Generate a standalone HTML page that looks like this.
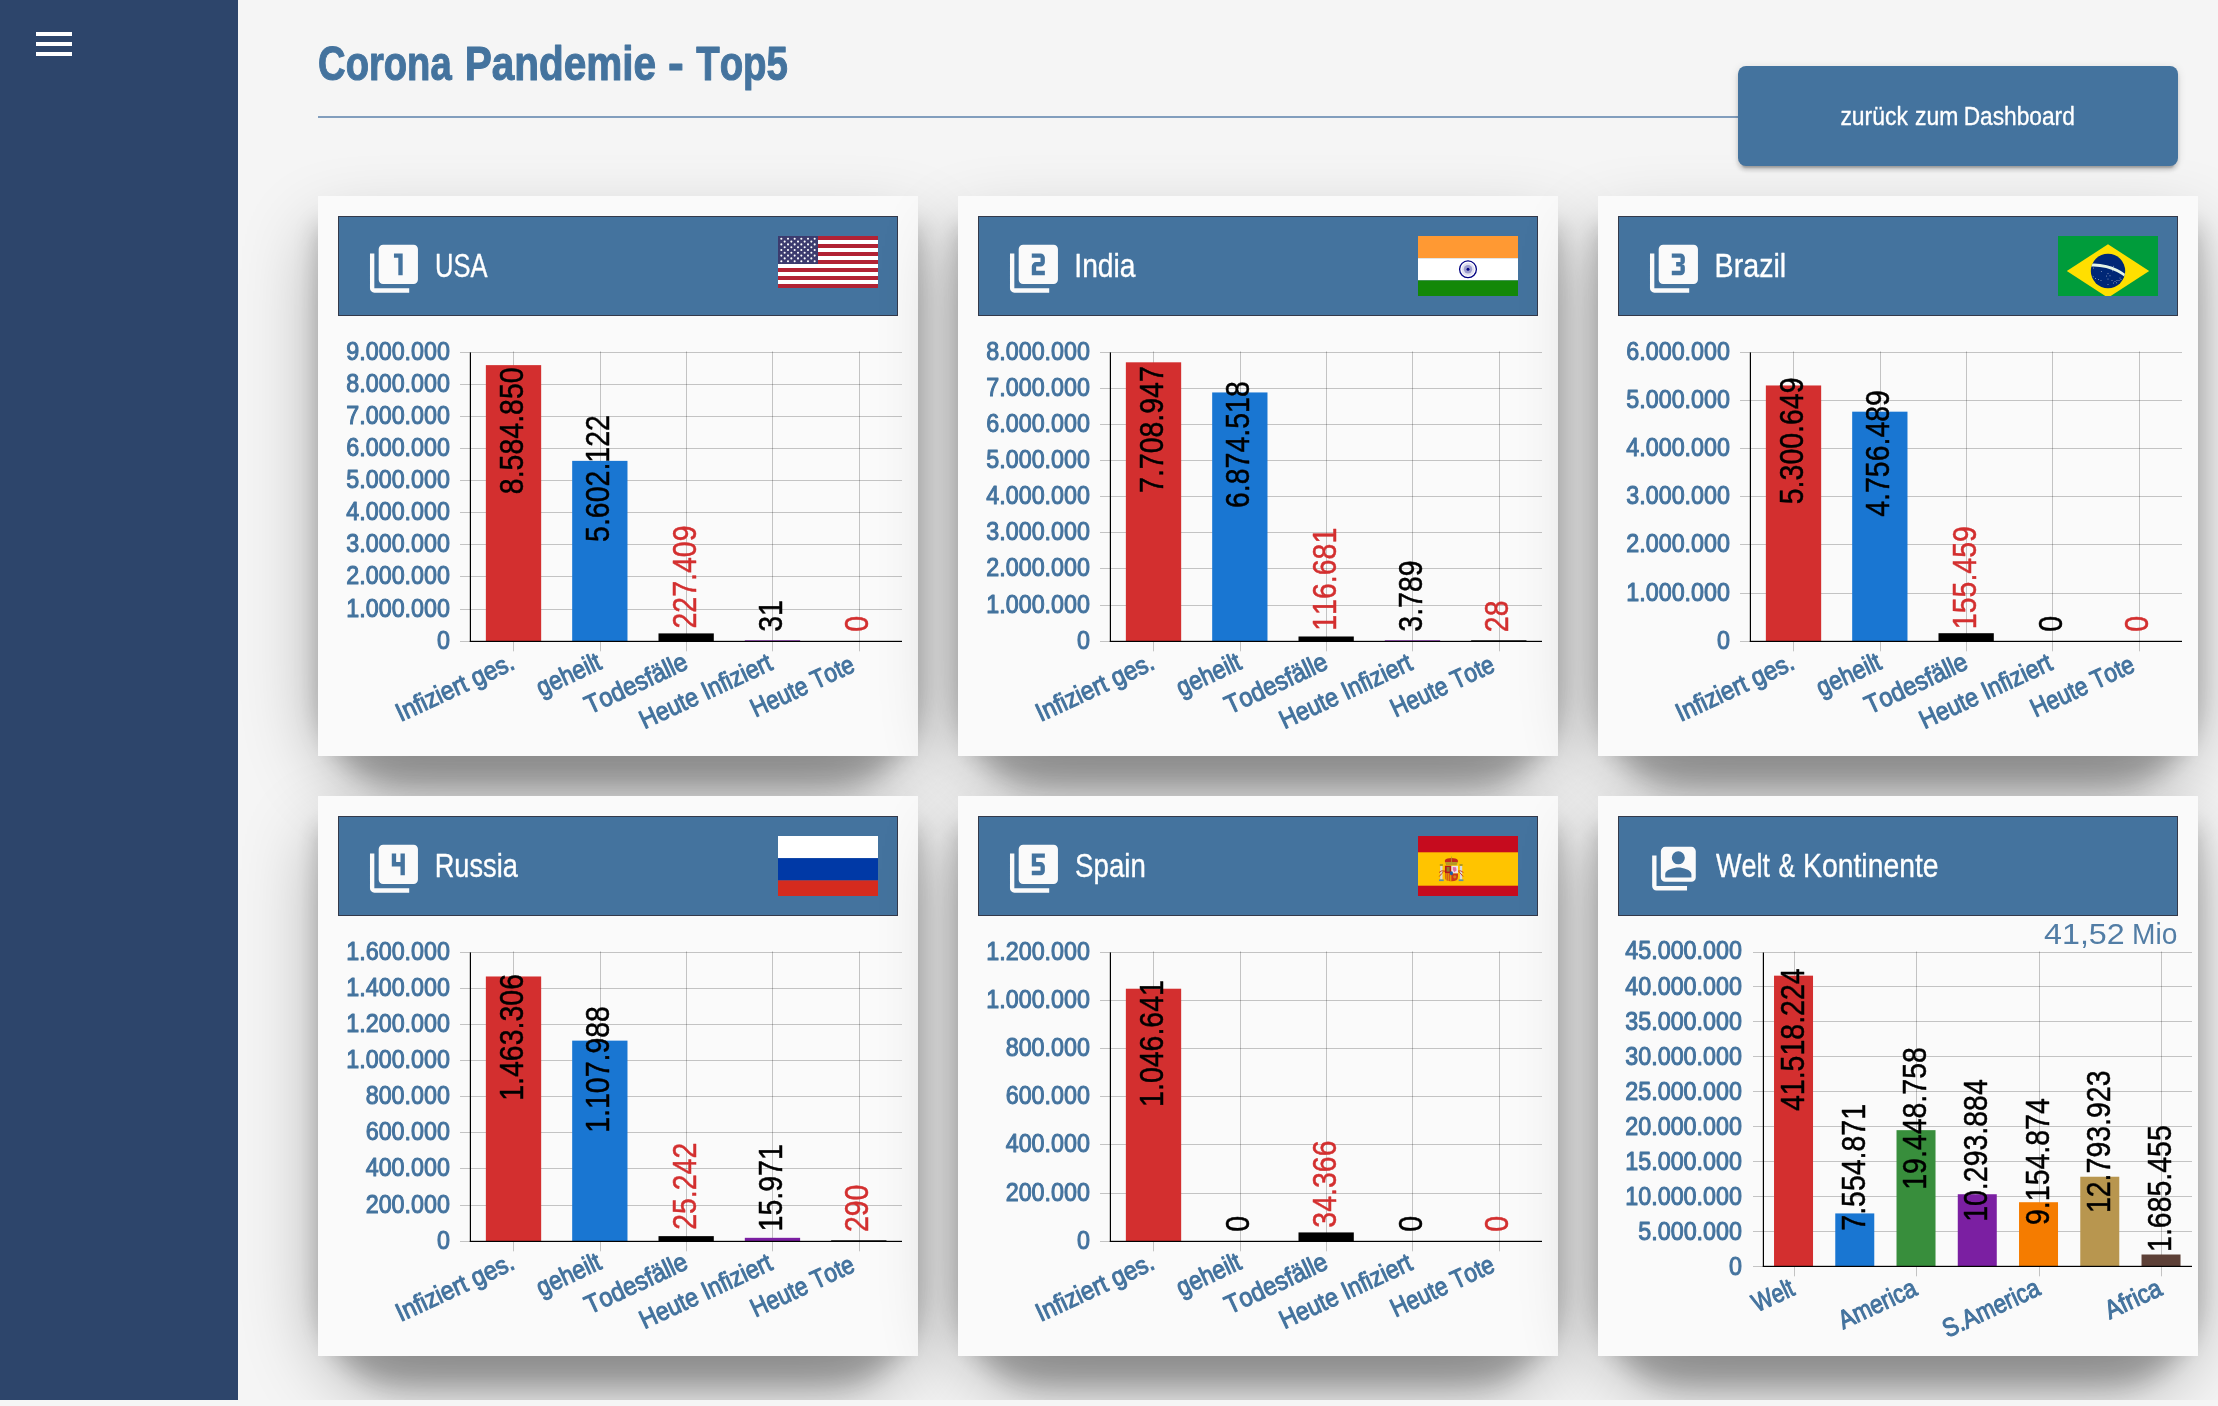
<!DOCTYPE html>
<html lang="de"><head><meta charset="utf-8"><title>Corona Pandemie - Top5</title>
<style>
html,body{margin:0;padding:0;background:#f5f5f5;}
body{width:2218px;height:1406px;overflow:hidden;font-family:"Liberation Sans", sans-serif;}
#wrap{position:absolute;left:0;top:0;width:2218px;height:1400px;overflow:hidden;background:#f5f5f5;}
#side{position:absolute;left:0;top:0;width:238px;height:1400px;background:#2d456b;}
.card{position:absolute;width:600px;height:560px;border-radius:0 0 86px 86px;box-shadow:0 38px 76px rgba(0,0,0,.30),0 30px 24px rgba(0,0,0,.22);}
.card svg{background:#fafafa;}
.card svg{display:block;overflow:hidden;will-change:transform;}
svg text{font-family:"Liberation Sans", sans-serif;font-kerning:none;}
#hline{position:absolute;left:318px;top:116px;width:1420px;height:2px;background:#829ebd;}
#btn{position:absolute;left:1738px;top:66px;width:440px;height:100px;border-radius:8px;background:#44739e;box-shadow:0 6px 2px -4px rgba(0,0,0,.2),0 4px 4px 0 rgba(0,0,0,.14),0 2px 10px 0 rgba(0,0,0,.12);}
#top{position:absolute;left:0;top:0;will-change:transform;}
</style></head><body>
<div id="wrap">
<div class="card" style="left:318px;top:196px"><svg width="600" height="560" viewBox="0 0 600 560"><rect x="20.5" y="20.5" width="559" height="99" fill="#44739e" stroke="#33394a" stroke-width="1"/><g transform="translate(49.8 46.5) scale(2.18)" fill="#fafafa" fill-rule="evenodd"><path d="M3,5H1V21A2,2 0 0,0 3,23H19V21H3ZM21,1H7A2,2 0 0,0 5,3V17A2,2 0 0,0 7,19H21A2,2 0 0,0 23,17V3A2,2 0 0,0 21,1ZM14,15H16V5H12V7H14Z"/></g><text transform="translate(117.07 81.10) scale(0.7863 1)" font-size="32.5" fill="#fff" stroke="#fff" stroke-width="0.35" stroke-linejoin="round">USA</text><svg x="460" y="40" width="100" height="60" viewBox="0 0 100 60"><g><rect width="100" height="52" fill="#fff"/><rect y="0" width="100" height="4" fill="#b22234"/><rect y="8" width="100" height="4" fill="#b22234"/><rect y="16" width="100" height="4" fill="#b22234"/><rect y="24" width="100" height="4" fill="#b22234"/><rect y="32" width="100" height="4" fill="#b22234"/><rect y="40" width="100" height="4" fill="#b22234"/><rect y="48" width="100" height="4" fill="#b22234"/><rect width="40" height="28" fill="#3c3b6e"/><circle cx="3.33" cy="2.80" r="1.05" fill="#fff"/><circle cx="10.00" cy="2.80" r="1.05" fill="#fff"/><circle cx="16.66" cy="2.80" r="1.05" fill="#fff"/><circle cx="23.33" cy="2.80" r="1.05" fill="#fff"/><circle cx="30.00" cy="2.80" r="1.05" fill="#fff"/><circle cx="36.66" cy="2.80" r="1.05" fill="#fff"/><circle cx="6.67" cy="5.60" r="1.05" fill="#fff"/><circle cx="13.34" cy="5.60" r="1.05" fill="#fff"/><circle cx="20.00" cy="5.60" r="1.05" fill="#fff"/><circle cx="26.67" cy="5.60" r="1.05" fill="#fff"/><circle cx="33.34" cy="5.60" r="1.05" fill="#fff"/><circle cx="3.33" cy="8.40" r="1.05" fill="#fff"/><circle cx="10.00" cy="8.40" r="1.05" fill="#fff"/><circle cx="16.66" cy="8.40" r="1.05" fill="#fff"/><circle cx="23.33" cy="8.40" r="1.05" fill="#fff"/><circle cx="30.00" cy="8.40" r="1.05" fill="#fff"/><circle cx="36.66" cy="8.40" r="1.05" fill="#fff"/><circle cx="6.67" cy="11.20" r="1.05" fill="#fff"/><circle cx="13.34" cy="11.20" r="1.05" fill="#fff"/><circle cx="20.00" cy="11.20" r="1.05" fill="#fff"/><circle cx="26.67" cy="11.20" r="1.05" fill="#fff"/><circle cx="33.34" cy="11.20" r="1.05" fill="#fff"/><circle cx="3.33" cy="14.00" r="1.05" fill="#fff"/><circle cx="10.00" cy="14.00" r="1.05" fill="#fff"/><circle cx="16.66" cy="14.00" r="1.05" fill="#fff"/><circle cx="23.33" cy="14.00" r="1.05" fill="#fff"/><circle cx="30.00" cy="14.00" r="1.05" fill="#fff"/><circle cx="36.66" cy="14.00" r="1.05" fill="#fff"/><circle cx="6.67" cy="16.80" r="1.05" fill="#fff"/><circle cx="13.34" cy="16.80" r="1.05" fill="#fff"/><circle cx="20.00" cy="16.80" r="1.05" fill="#fff"/><circle cx="26.67" cy="16.80" r="1.05" fill="#fff"/><circle cx="33.34" cy="16.80" r="1.05" fill="#fff"/><circle cx="3.33" cy="19.60" r="1.05" fill="#fff"/><circle cx="10.00" cy="19.60" r="1.05" fill="#fff"/><circle cx="16.66" cy="19.60" r="1.05" fill="#fff"/><circle cx="23.33" cy="19.60" r="1.05" fill="#fff"/><circle cx="30.00" cy="19.60" r="1.05" fill="#fff"/><circle cx="36.66" cy="19.60" r="1.05" fill="#fff"/><circle cx="6.67" cy="22.40" r="1.05" fill="#fff"/><circle cx="13.34" cy="22.40" r="1.05" fill="#fff"/><circle cx="20.00" cy="22.40" r="1.05" fill="#fff"/><circle cx="26.67" cy="22.40" r="1.05" fill="#fff"/><circle cx="33.34" cy="22.40" r="1.05" fill="#fff"/><circle cx="3.33" cy="25.20" r="1.05" fill="#fff"/><circle cx="10.00" cy="25.20" r="1.05" fill="#fff"/><circle cx="16.66" cy="25.20" r="1.05" fill="#fff"/><circle cx="23.33" cy="25.20" r="1.05" fill="#fff"/><circle cx="30.00" cy="25.20" r="1.05" fill="#fff"/><circle cx="36.66" cy="25.20" r="1.05" fill="#fff"/></g></svg><rect x="142" y="445" width="442" height="1" fill="rgba(0,0,0,.22)"/><text transform="translate(131.90 452.90) scale(0.9140 1)" font-size="25.5" fill="#44739e" text-anchor="end" stroke="#44739e" stroke-width="1.05" stroke-linejoin="round">0</text><rect x="142" y="413" width="442" height="1" fill="rgba(0,0,0,.22)"/><text transform="translate(131.90 420.90) scale(0.9140 1)" font-size="25.5" fill="#44739e" text-anchor="end" stroke="#44739e" stroke-width="1.05" stroke-linejoin="round">1.000.000</text><rect x="142" y="380" width="442" height="1" fill="rgba(0,0,0,.22)"/><text transform="translate(131.90 387.90) scale(0.9140 1)" font-size="25.5" fill="#44739e" text-anchor="end" stroke="#44739e" stroke-width="1.05" stroke-linejoin="round">2.000.000</text><rect x="142" y="348" width="442" height="1" fill="rgba(0,0,0,.22)"/><text transform="translate(131.90 355.90) scale(0.9140 1)" font-size="25.5" fill="#44739e" text-anchor="end" stroke="#44739e" stroke-width="1.05" stroke-linejoin="round">3.000.000</text><rect x="142" y="316" width="442" height="1" fill="rgba(0,0,0,.22)"/><text transform="translate(131.90 323.90) scale(0.9140 1)" font-size="25.5" fill="#44739e" text-anchor="end" stroke="#44739e" stroke-width="1.05" stroke-linejoin="round">4.000.000</text><rect x="142" y="284" width="442" height="1" fill="rgba(0,0,0,.22)"/><text transform="translate(131.90 291.90) scale(0.9140 1)" font-size="25.5" fill="#44739e" text-anchor="end" stroke="#44739e" stroke-width="1.05" stroke-linejoin="round">5.000.000</text><rect x="142" y="252" width="442" height="1" fill="rgba(0,0,0,.22)"/><text transform="translate(131.90 259.90) scale(0.9140 1)" font-size="25.5" fill="#44739e" text-anchor="end" stroke="#44739e" stroke-width="1.05" stroke-linejoin="round">6.000.000</text><rect x="142" y="220" width="442" height="1" fill="rgba(0,0,0,.22)"/><text transform="translate(131.90 227.90) scale(0.9140 1)" font-size="25.5" fill="#44739e" text-anchor="end" stroke="#44739e" stroke-width="1.05" stroke-linejoin="round">7.000.000</text><rect x="142" y="188" width="442" height="1" fill="rgba(0,0,0,.22)"/><text transform="translate(131.90 195.90) scale(0.9140 1)" font-size="25.5" fill="#44739e" text-anchor="end" stroke="#44739e" stroke-width="1.05" stroke-linejoin="round">8.000.000</text><rect x="142" y="156" width="442" height="1" fill="rgba(0,0,0,.22)"/><text transform="translate(131.90 163.90) scale(0.9140 1)" font-size="25.5" fill="#44739e" text-anchor="end" stroke="#44739e" stroke-width="1.05" stroke-linejoin="round">9.000.000</text><rect x="195" y="155.40" width="1" height="299.90" fill="rgba(0,0,0,.22)"/><rect x="282" y="155.40" width="1" height="299.90" fill="rgba(0,0,0,.22)"/><rect x="368" y="155.40" width="1" height="299.90" fill="rgba(0,0,0,.22)"/><rect x="454" y="155.40" width="1" height="299.90" fill="rgba(0,0,0,.22)"/><rect x="541" y="155.40" width="1" height="299.90" fill="rgba(0,0,0,.22)"/><rect x="167.86" y="169.13" width="55.3" height="276.17" fill="#d32f2f"/><rect x="254.18" y="264.87" width="55.3" height="180.43" fill="#1976d2"/><rect x="340.50" y="437.40" width="55.3" height="7.90" fill="#000000"/><rect x="426.82" y="444.30" width="55.3" height="1.00" fill="#7b1fa2"/><rect x="151.80" y="156.40" width="1.2" height="289.50" fill="#000"/><rect x="151.80" y="444.80" width="432.20" height="1.2" fill="#000"/><text transform="translate(205.06 298.15) rotate(-90) scale(0.8510 1)" font-size="33.5" fill="#000" stroke="#000" stroke-width="0.5" stroke-linejoin="round">8.584.850</text><text transform="translate(291.38 345.93) rotate(-90) scale(0.8510 1)" font-size="33.5" fill="#000" stroke="#000" stroke-width="0.5" stroke-linejoin="round">5.602.122</text><text transform="translate(377.70 432.48) rotate(-90) scale(0.8510 1)" font-size="33.5" fill="#d32f2f" stroke="#d32f2f" stroke-width="0.5" stroke-linejoin="round">227.409</text><text transform="translate(464.02 435.79) rotate(-90) scale(0.8510 1)" font-size="33.5" fill="#000" stroke="#000" stroke-width="0.5" stroke-linejoin="round">31</text><text transform="translate(550.34 435.81) rotate(-90) scale(0.8510 1)" font-size="33.5" fill="#d32f2f" stroke="#d32f2f" stroke-width="0.5" stroke-linejoin="round">0</text><text transform="translate(198.24 472.23) rotate(-25) scale(0.9090 1)" font-size="26" fill="#44739e" text-anchor="end" stroke="#44739e" stroke-width="1.05" stroke-linejoin="round">Infiziert ges.</text><text transform="translate(285.20 471.93) rotate(-25) scale(0.8920 1)" font-size="26" fill="#44739e" text-anchor="end" stroke="#44739e" stroke-width="1.05" stroke-linejoin="round">geheilt</text><text transform="translate(371.52 471.93) rotate(-25) scale(0.9174 1)" font-size="26" fill="#44739e" text-anchor="end" stroke="#44739e" stroke-width="1.05" stroke-linejoin="round">Todesfälle</text><text transform="translate(456.21 472.69) rotate(-25) scale(0.8920 1)" font-size="26" fill="#44739e" text-anchor="end" stroke="#44739e" stroke-width="1.05" stroke-linejoin="round">Heute Infiziert</text><text transform="translate(538.45 474.59) rotate(-25) scale(0.8657 1)" font-size="26" fill="#44739e" text-anchor="end" stroke="#44739e" stroke-width="1.05" stroke-linejoin="round">Heute Tote</text></svg></div><div class="card" style="left:958px;top:196px"><svg width="600" height="560" viewBox="0 0 600 560"><rect x="20.5" y="20.5" width="559" height="99" fill="#44739e" stroke="#33394a" stroke-width="1"/><g transform="translate(49.8 46.5) scale(2.18)" fill="#fafafa" fill-rule="evenodd"><path d="M3,5H1V21A2,2 0 0,0 3,23H19V21H3ZM21,1H7A2,2 0 0,0 5,3V17A2,2 0 0,0 7,19H21A2,2 0 0,0 23,17V3A2,2 0 0,0 21,1ZM17,13H13V11H15A2,2 0 0,0 17,9V7C17,5.89 16.1,5 15,5H11V7H15V9H13A2,2 0 0,0 11,11V15H17Z"/></g><text transform="translate(116.33 81.10) scale(0.8688 1)" font-size="32.5" fill="#fff" stroke="#fff" stroke-width="0.35" stroke-linejoin="round">India</text><svg x="460" y="40" width="100" height="60" viewBox="0 0 100 60"><g><rect width="100" height="22.2" fill="#ff9933"/><rect y="22.2" width="100" height="22.2" fill="#fff"/><rect y="44.4" width="100" height="15.6" fill="#138808"/><circle cx="50" cy="33.3" r="8.4" fill="#fff" stroke="#000080" stroke-width="1.3"/><circle cx="50" cy="33.3" r="6.5" fill="#000080" opacity="0.12"/><circle cx="50" cy="33.3" r="4.2" fill="#000080" opacity="0.3"/><circle cx="50" cy="33.3" r="1.5" fill="#000080"/></g></svg><rect x="142" y="445" width="442" height="1" fill="rgba(0,0,0,.22)"/><text transform="translate(131.90 452.90) scale(0.9140 1)" font-size="25.5" fill="#44739e" text-anchor="end" stroke="#44739e" stroke-width="1.05" stroke-linejoin="round">0</text><rect x="142" y="409" width="442" height="1" fill="rgba(0,0,0,.22)"/><text transform="translate(131.90 416.90) scale(0.9140 1)" font-size="25.5" fill="#44739e" text-anchor="end" stroke="#44739e" stroke-width="1.05" stroke-linejoin="round">1.000.000</text><rect x="142" y="372" width="442" height="1" fill="rgba(0,0,0,.22)"/><text transform="translate(131.90 379.90) scale(0.9140 1)" font-size="25.5" fill="#44739e" text-anchor="end" stroke="#44739e" stroke-width="1.05" stroke-linejoin="round">2.000.000</text><rect x="142" y="336" width="442" height="1" fill="rgba(0,0,0,.22)"/><text transform="translate(131.90 343.90) scale(0.9140 1)" font-size="25.5" fill="#44739e" text-anchor="end" stroke="#44739e" stroke-width="1.05" stroke-linejoin="round">3.000.000</text><rect x="142" y="300" width="442" height="1" fill="rgba(0,0,0,.22)"/><text transform="translate(131.90 307.90) scale(0.9140 1)" font-size="25.5" fill="#44739e" text-anchor="end" stroke="#44739e" stroke-width="1.05" stroke-linejoin="round">4.000.000</text><rect x="142" y="264" width="442" height="1" fill="rgba(0,0,0,.22)"/><text transform="translate(131.90 271.90) scale(0.9140 1)" font-size="25.5" fill="#44739e" text-anchor="end" stroke="#44739e" stroke-width="1.05" stroke-linejoin="round">5.000.000</text><rect x="142" y="228" width="442" height="1" fill="rgba(0,0,0,.22)"/><text transform="translate(131.90 235.90) scale(0.9140 1)" font-size="25.5" fill="#44739e" text-anchor="end" stroke="#44739e" stroke-width="1.05" stroke-linejoin="round">6.000.000</text><rect x="142" y="192" width="442" height="1" fill="rgba(0,0,0,.22)"/><text transform="translate(131.90 199.90) scale(0.9140 1)" font-size="25.5" fill="#44739e" text-anchor="end" stroke="#44739e" stroke-width="1.05" stroke-linejoin="round">7.000.000</text><rect x="142" y="156" width="442" height="1" fill="rgba(0,0,0,.22)"/><text transform="translate(131.90 163.90) scale(0.9140 1)" font-size="25.5" fill="#44739e" text-anchor="end" stroke="#44739e" stroke-width="1.05" stroke-linejoin="round">8.000.000</text><rect x="195" y="155.40" width="1" height="299.90" fill="rgba(0,0,0,.22)"/><rect x="282" y="155.40" width="1" height="299.90" fill="rgba(0,0,0,.22)"/><rect x="368" y="155.40" width="1" height="299.90" fill="rgba(0,0,0,.22)"/><rect x="454" y="155.40" width="1" height="299.90" fill="rgba(0,0,0,.22)"/><rect x="541" y="155.40" width="1" height="299.90" fill="rgba(0,0,0,.22)"/><rect x="167.86" y="166.31" width="55.3" height="278.99" fill="#d32f2f"/><rect x="254.18" y="196.44" width="55.3" height="248.86" fill="#1976d2"/><rect x="340.50" y="440.49" width="55.3" height="4.81" fill="#000000"/><rect x="426.82" y="444.30" width="55.3" height="1.00" fill="#7b1fa2"/><rect x="513.14" y="444.30" width="55.3" height="1.00" fill="#000000"/><rect x="151.80" y="156.40" width="1.2" height="289.50" fill="#000"/><rect x="151.80" y="444.80" width="432.20" height="1.2" fill="#000"/><text transform="translate(205.06 296.97) rotate(-90) scale(0.8510 1)" font-size="33.5" fill="#000" stroke="#000" stroke-width="0.5" stroke-linejoin="round">7.708.947</text><text transform="translate(291.38 312.02) rotate(-90) scale(0.8510 1)" font-size="33.5" fill="#000" stroke="#000" stroke-width="0.5" stroke-linejoin="round">6.874.518</text><text transform="translate(377.70 434.76) rotate(-90) scale(0.8510 1)" font-size="33.5" fill="#d32f2f" stroke="#d32f2f" stroke-width="0.5" stroke-linejoin="round">116.681</text><text transform="translate(464.02 435.72) rotate(-90) scale(0.8510 1)" font-size="33.5" fill="#000" stroke="#000" stroke-width="0.5" stroke-linejoin="round">3.789</text><text transform="translate(550.34 436.13) rotate(-90) scale(0.8510 1)" font-size="33.5" fill="#d32f2f" stroke="#d32f2f" stroke-width="0.5" stroke-linejoin="round">28</text><text transform="translate(198.24 472.23) rotate(-25) scale(0.9090 1)" font-size="26" fill="#44739e" text-anchor="end" stroke="#44739e" stroke-width="1.05" stroke-linejoin="round">Infiziert ges.</text><text transform="translate(285.20 471.93) rotate(-25) scale(0.8920 1)" font-size="26" fill="#44739e" text-anchor="end" stroke="#44739e" stroke-width="1.05" stroke-linejoin="round">geheilt</text><text transform="translate(371.52 471.93) rotate(-25) scale(0.9174 1)" font-size="26" fill="#44739e" text-anchor="end" stroke="#44739e" stroke-width="1.05" stroke-linejoin="round">Todesfälle</text><text transform="translate(456.21 472.69) rotate(-25) scale(0.8920 1)" font-size="26" fill="#44739e" text-anchor="end" stroke="#44739e" stroke-width="1.05" stroke-linejoin="round">Heute Infiziert</text><text transform="translate(538.45 474.59) rotate(-25) scale(0.8657 1)" font-size="26" fill="#44739e" text-anchor="end" stroke="#44739e" stroke-width="1.05" stroke-linejoin="round">Heute Tote</text></svg></div><div class="card" style="left:1598px;top:196px"><svg width="600" height="560" viewBox="0 0 600 560"><rect x="20.5" y="20.5" width="559" height="99" fill="#44739e" stroke="#33394a" stroke-width="1"/><g transform="translate(49.8 46.5) scale(2.18)" fill="#fafafa" fill-rule="evenodd"><path d="M3,5H1V21A2,2 0 0,0 3,23H19V21H3ZM21,1H7A2,2 0 0,0 5,3V17A2,2 0 0,0 7,19H21A2,2 0 0,0 23,17V3A2,2 0 0,0 21,1ZM17,13V11.5A1.5,1.5 0 0,0 15.5,10A1.5,1.5 0 0,0 17,8.5V7C17,5.89 16.1,5 15,5H11V7H15V9H13V11H15V13H11V15H15A2,2 0 0,0 17,13Z"/></g><text transform="translate(116.59 81.10) scale(0.8822 1)" font-size="32.5" fill="#fff" stroke="#fff" stroke-width="0.35" stroke-linejoin="round">Brazil</text><svg x="460" y="40" width="100" height="60" viewBox="0 0 100 60"><g><rect width="100" height="60" fill="#009c3b"/><path d="M8.8,35 L50,8.3 L91.2,35 L50,61.7Z" fill="#ffdf00"/><clipPath id="brc"><circle cx="50" cy="35" r="17.2"/></clipPath><circle cx="50" cy="35" r="17.2" fill="#002776"/><path d="M31,29.3 C40,28.2 56,30.2 69,41" fill="none" stroke="#e4f3e6" stroke-width="2.8" clip-path="url(#brc)"/><circle cx="35.5" cy="32" r="0.55" fill="#fff" opacity="0.55"/><circle cx="43.4" cy="35.5" r="0.55" fill="#fff" opacity="0.55"/><circle cx="37.5" cy="42.5" r="0.55" fill="#fff" opacity="0.55"/><circle cx="40.5" cy="43.5" r="0.55" fill="#fff" opacity="0.55"/><circle cx="35.2" cy="40.8" r="0.55" fill="#fff" opacity="0.55"/><circle cx="43" cy="44.5" r="0.55" fill="#fff" opacity="0.55"/><circle cx="50" cy="37.6" r="0.55" fill="#fff" opacity="0.55"/><circle cx="52" cy="39.8" r="0.55" fill="#fff" opacity="0.55"/><circle cx="48.5" cy="40" r="0.55" fill="#fff" opacity="0.55"/><circle cx="50" cy="43" r="0.55" fill="#fff" opacity="0.55"/><circle cx="54" cy="44.5" r="0.55" fill="#fff" opacity="0.55"/><circle cx="57" cy="45.5" r="0.55" fill="#fff" opacity="0.55"/><circle cx="58.5" cy="46.8" r="0.55" fill="#fff" opacity="0.55"/><circle cx="55.5" cy="47" r="0.55" fill="#fff" opacity="0.55"/><circle cx="59" cy="44.5" r="0.55" fill="#fff" opacity="0.55"/><circle cx="62" cy="42" r="0.55" fill="#fff" opacity="0.55"/><circle cx="63" cy="43.5" r="0.55" fill="#fff" opacity="0.55"/><circle cx="61" cy="44.5" r="0.55" fill="#fff" opacity="0.55"/><circle cx="50" cy="48.5" r="0.55" fill="#fff" opacity="0.55"/><circle cx="54.5" cy="34.8" r="0.55" fill="#fff" opacity="0.55"/><circle cx="55.5" cy="30.2" r="0.55" fill="#fff" opacity="0.55"/></g></svg><rect x="142" y="445" width="442" height="1" fill="rgba(0,0,0,.22)"/><text transform="translate(131.90 452.90) scale(0.9140 1)" font-size="25.5" fill="#44739e" text-anchor="end" stroke="#44739e" stroke-width="1.05" stroke-linejoin="round">0</text><rect x="142" y="397" width="442" height="1" fill="rgba(0,0,0,.22)"/><text transform="translate(131.90 404.90) scale(0.9140 1)" font-size="25.5" fill="#44739e" text-anchor="end" stroke="#44739e" stroke-width="1.05" stroke-linejoin="round">1.000.000</text><rect x="142" y="348" width="442" height="1" fill="rgba(0,0,0,.22)"/><text transform="translate(131.90 355.90) scale(0.9140 1)" font-size="25.5" fill="#44739e" text-anchor="end" stroke="#44739e" stroke-width="1.05" stroke-linejoin="round">2.000.000</text><rect x="142" y="300" width="442" height="1" fill="rgba(0,0,0,.22)"/><text transform="translate(131.90 307.90) scale(0.9140 1)" font-size="25.5" fill="#44739e" text-anchor="end" stroke="#44739e" stroke-width="1.05" stroke-linejoin="round">3.000.000</text><rect x="142" y="252" width="442" height="1" fill="rgba(0,0,0,.22)"/><text transform="translate(131.90 259.90) scale(0.9140 1)" font-size="25.5" fill="#44739e" text-anchor="end" stroke="#44739e" stroke-width="1.05" stroke-linejoin="round">4.000.000</text><rect x="142" y="204" width="442" height="1" fill="rgba(0,0,0,.22)"/><text transform="translate(131.90 211.90) scale(0.9140 1)" font-size="25.5" fill="#44739e" text-anchor="end" stroke="#44739e" stroke-width="1.05" stroke-linejoin="round">5.000.000</text><rect x="142" y="156" width="442" height="1" fill="rgba(0,0,0,.22)"/><text transform="translate(131.90 163.90) scale(0.9140 1)" font-size="25.5" fill="#44739e" text-anchor="end" stroke="#44739e" stroke-width="1.05" stroke-linejoin="round">6.000.000</text><rect x="195" y="155.40" width="1" height="299.90" fill="rgba(0,0,0,.22)"/><rect x="282" y="155.40" width="1" height="299.90" fill="rgba(0,0,0,.22)"/><rect x="368" y="155.40" width="1" height="299.90" fill="rgba(0,0,0,.22)"/><rect x="454" y="155.40" width="1" height="299.90" fill="rgba(0,0,0,.22)"/><rect x="541" y="155.40" width="1" height="299.90" fill="rgba(0,0,0,.22)"/><rect x="167.86" y="189.47" width="55.3" height="255.83" fill="#d32f2f"/><rect x="254.18" y="215.68" width="55.3" height="229.62" fill="#1976d2"/><rect x="340.50" y="437.21" width="55.3" height="8.09" fill="#000000"/><rect x="151.80" y="156.40" width="1.2" height="289.50" fill="#000"/><rect x="151.80" y="444.80" width="432.20" height="1.2" fill="#000"/><text transform="translate(205.06 308.23) rotate(-90) scale(0.8510 1)" font-size="33.5" fill="#000" stroke="#000" stroke-width="0.5" stroke-linejoin="round">5.300.649</text><text transform="translate(291.38 320.84) rotate(-90) scale(0.8510 1)" font-size="33.5" fill="#000" stroke="#000" stroke-width="0.5" stroke-linejoin="round">4.756.489</text><text transform="translate(377.70 433.13) rotate(-90) scale(0.8510 1)" font-size="33.5" fill="#d32f2f" stroke="#d32f2f" stroke-width="0.5" stroke-linejoin="round">155.459</text><text transform="translate(464.02 435.81) rotate(-90) scale(0.8510 1)" font-size="33.5" fill="#000" stroke="#000" stroke-width="0.5" stroke-linejoin="round">0</text><text transform="translate(550.34 435.81) rotate(-90) scale(0.8510 1)" font-size="33.5" fill="#d32f2f" stroke="#d32f2f" stroke-width="0.5" stroke-linejoin="round">0</text><text transform="translate(198.24 472.23) rotate(-25) scale(0.9090 1)" font-size="26" fill="#44739e" text-anchor="end" stroke="#44739e" stroke-width="1.05" stroke-linejoin="round">Infiziert ges.</text><text transform="translate(285.20 471.93) rotate(-25) scale(0.8920 1)" font-size="26" fill="#44739e" text-anchor="end" stroke="#44739e" stroke-width="1.05" stroke-linejoin="round">geheilt</text><text transform="translate(371.52 471.93) rotate(-25) scale(0.9174 1)" font-size="26" fill="#44739e" text-anchor="end" stroke="#44739e" stroke-width="1.05" stroke-linejoin="round">Todesfälle</text><text transform="translate(456.21 472.69) rotate(-25) scale(0.8920 1)" font-size="26" fill="#44739e" text-anchor="end" stroke="#44739e" stroke-width="1.05" stroke-linejoin="round">Heute Infiziert</text><text transform="translate(538.45 474.59) rotate(-25) scale(0.8657 1)" font-size="26" fill="#44739e" text-anchor="end" stroke="#44739e" stroke-width="1.05" stroke-linejoin="round">Heute Tote</text></svg></div><div class="card" style="left:318px;top:796px"><svg width="600" height="560" viewBox="0 0 600 560"><rect x="20.5" y="20.5" width="559" height="99" fill="#44739e" stroke="#33394a" stroke-width="1"/><g transform="translate(49.8 46.5) scale(2.18)" fill="#fafafa" fill-rule="evenodd"><path d="M3,5H1V21A2,2 0 0,0 3,23H19V21H3ZM21,1H7A2,2 0 0,0 5,3V17A2,2 0 0,0 7,19H21A2,2 0 0,0 23,17V3A2,2 0 0,0 21,1ZM17,15H15V11H11V5H13V9H15V5H17Z"/></g><text transform="translate(116.71 81.10) scale(0.8370 1)" font-size="32.5" fill="#fff" stroke="#fff" stroke-width="0.35" stroke-linejoin="round">Russia</text><svg x="460" y="40" width="100" height="60" viewBox="0 0 100 60"><g><rect width="100" height="22.2" fill="#fff"/><rect y="22.2" width="100" height="22.2" fill="#0039a6"/><rect y="44.4" width="100" height="15.6" fill="#d52b1e"/></g></svg><rect x="142" y="445" width="442" height="1" fill="rgba(0,0,0,.22)"/><text transform="translate(131.90 452.90) scale(0.9140 1)" font-size="25.5" fill="#44739e" text-anchor="end" stroke="#44739e" stroke-width="1.05" stroke-linejoin="round">0</text><rect x="142" y="409" width="442" height="1" fill="rgba(0,0,0,.22)"/><text transform="translate(131.90 416.90) scale(0.9140 1)" font-size="25.5" fill="#44739e" text-anchor="end" stroke="#44739e" stroke-width="1.05" stroke-linejoin="round">200.000</text><rect x="142" y="372" width="442" height="1" fill="rgba(0,0,0,.22)"/><text transform="translate(131.90 379.90) scale(0.9140 1)" font-size="25.5" fill="#44739e" text-anchor="end" stroke="#44739e" stroke-width="1.05" stroke-linejoin="round">400.000</text><rect x="142" y="336" width="442" height="1" fill="rgba(0,0,0,.22)"/><text transform="translate(131.90 343.90) scale(0.9140 1)" font-size="25.5" fill="#44739e" text-anchor="end" stroke="#44739e" stroke-width="1.05" stroke-linejoin="round">600.000</text><rect x="142" y="300" width="442" height="1" fill="rgba(0,0,0,.22)"/><text transform="translate(131.90 307.90) scale(0.9140 1)" font-size="25.5" fill="#44739e" text-anchor="end" stroke="#44739e" stroke-width="1.05" stroke-linejoin="round">800.000</text><rect x="142" y="264" width="442" height="1" fill="rgba(0,0,0,.22)"/><text transform="translate(131.90 271.90) scale(0.9140 1)" font-size="25.5" fill="#44739e" text-anchor="end" stroke="#44739e" stroke-width="1.05" stroke-linejoin="round">1.000.000</text><rect x="142" y="228" width="442" height="1" fill="rgba(0,0,0,.22)"/><text transform="translate(131.90 235.90) scale(0.9140 1)" font-size="25.5" fill="#44739e" text-anchor="end" stroke="#44739e" stroke-width="1.05" stroke-linejoin="round">1.200.000</text><rect x="142" y="192" width="442" height="1" fill="rgba(0,0,0,.22)"/><text transform="translate(131.90 199.90) scale(0.9140 1)" font-size="25.5" fill="#44739e" text-anchor="end" stroke="#44739e" stroke-width="1.05" stroke-linejoin="round">1.400.000</text><rect x="142" y="156" width="442" height="1" fill="rgba(0,0,0,.22)"/><text transform="translate(131.90 163.90) scale(0.9140 1)" font-size="25.5" fill="#44739e" text-anchor="end" stroke="#44739e" stroke-width="1.05" stroke-linejoin="round">1.600.000</text><rect x="195" y="155.40" width="1" height="299.90" fill="rgba(0,0,0,.22)"/><rect x="282" y="155.40" width="1" height="299.90" fill="rgba(0,0,0,.22)"/><rect x="368" y="155.40" width="1" height="299.90" fill="rgba(0,0,0,.22)"/><rect x="454" y="155.40" width="1" height="299.90" fill="rgba(0,0,0,.22)"/><rect x="541" y="155.40" width="1" height="299.90" fill="rgba(0,0,0,.22)"/><rect x="167.86" y="180.48" width="55.3" height="264.82" fill="#d32f2f"/><rect x="254.18" y="244.64" width="55.3" height="200.66" fill="#1976d2"/><rect x="340.50" y="440.14" width="55.3" height="5.16" fill="#000000"/><rect x="426.82" y="441.82" width="55.3" height="3.48" fill="#7b1fa2"/><rect x="513.14" y="444.30" width="55.3" height="1.00" fill="#000000"/><rect x="151.80" y="156.40" width="1.2" height="289.50" fill="#000"/><rect x="151.80" y="444.80" width="432.20" height="1.2" fill="#000"/><text transform="translate(205.06 304.76) rotate(-90) scale(0.8510 1)" font-size="33.5" fill="#000" stroke="#000" stroke-width="0.5" stroke-linejoin="round">1.463.306</text><text transform="translate(291.38 336.84) rotate(-90) scale(0.8510 1)" font-size="33.5" fill="#000" stroke="#000" stroke-width="0.5" stroke-linejoin="round">1.107.988</text><text transform="translate(377.70 433.85) rotate(-90) scale(0.8510 1)" font-size="33.5" fill="#d32f2f" stroke="#d32f2f" stroke-width="0.5" stroke-linejoin="round">25.242</text><text transform="translate(464.02 435.43) rotate(-90) scale(0.8510 1)" font-size="33.5" fill="#000" stroke="#000" stroke-width="0.5" stroke-linejoin="round">15.971</text><text transform="translate(550.34 436.11) rotate(-90) scale(0.8510 1)" font-size="33.5" fill="#d32f2f" stroke="#d32f2f" stroke-width="0.5" stroke-linejoin="round">290</text><text transform="translate(198.24 472.23) rotate(-25) scale(0.9090 1)" font-size="26" fill="#44739e" text-anchor="end" stroke="#44739e" stroke-width="1.05" stroke-linejoin="round">Infiziert ges.</text><text transform="translate(285.20 471.93) rotate(-25) scale(0.8920 1)" font-size="26" fill="#44739e" text-anchor="end" stroke="#44739e" stroke-width="1.05" stroke-linejoin="round">geheilt</text><text transform="translate(371.52 471.93) rotate(-25) scale(0.9174 1)" font-size="26" fill="#44739e" text-anchor="end" stroke="#44739e" stroke-width="1.05" stroke-linejoin="round">Todesfälle</text><text transform="translate(456.21 472.69) rotate(-25) scale(0.8920 1)" font-size="26" fill="#44739e" text-anchor="end" stroke="#44739e" stroke-width="1.05" stroke-linejoin="round">Heute Infiziert</text><text transform="translate(538.45 474.59) rotate(-25) scale(0.8657 1)" font-size="26" fill="#44739e" text-anchor="end" stroke="#44739e" stroke-width="1.05" stroke-linejoin="round">Heute Tote</text></svg></div><div class="card" style="left:958px;top:796px"><svg width="600" height="560" viewBox="0 0 600 560"><rect x="20.5" y="20.5" width="559" height="99" fill="#44739e" stroke="#33394a" stroke-width="1"/><g transform="translate(49.8 46.5) scale(2.18)" fill="#fafafa" fill-rule="evenodd"><path d="M3,5H1V21A2,2 0 0,0 3,23H19V21H3ZM21,1H7A2,2 0 0,0 5,3V17A2,2 0 0,0 7,19H21A2,2 0 0,0 23,17V3A2,2 0 0,0 21,1ZM17,7H13V9H15A2,2 0 0,1 17,11V13A2,2 0 0,1 15,15H11V13H15V11H11V5H17Z"/></g><text transform="translate(117.09 81.10) scale(0.8502 1)" font-size="32.5" fill="#fff" stroke="#fff" stroke-width="0.35" stroke-linejoin="round">Spain</text><svg x="460" y="40" width="100" height="60" viewBox="0 0 100 60"><g><rect width="100" height="60" fill="#c60b1e"/><rect y="16.3" width="100" height="33.4" fill="#ffc400"/><rect x="22.2" y="29.8" width="2.3" height="13.8" fill="#d9d9dc"/><rect x="21.8" y="28" width="3.1" height="2" fill="#b39a1e"/><rect x="21.0" y="43.4" width="4.7" height="1.7" fill="#5f8fa3"/><rect x="41.9" y="29.8" width="2.3" height="13.8" fill="#d9d9dc"/><rect x="41.5" y="28" width="3.1" height="2" fill="#b39a1e"/><rect x="40.699999999999996" y="43.4" width="4.7" height="1.7" fill="#5f8fa3"/><path d="M21,36.5 Q23.5,33.8 27,35.2 M21.3,40.5 Q23.5,37.5 25.2,36.2" fill="none" stroke="#c5341c" stroke-width="0.9"/><path d="M45.4,36.5 Q42.9,33.8 39.8,35.2 M45.1,40.5 Q42.9,37.5 41.2,36.2" fill="none" stroke="#c5341c" stroke-width="0.9"/><clipPath id="esc"><path d="M26.8,29.5 H40 V40.5 Q40,45.4 33.4,45.4 Q26.8,45.4 26.8,40.5Z"/></clipPath><g clip-path="url(#esc)"><rect x="26.8" y="29.5" width="6.6" height="8" fill="#b5171b"/><rect x="28.6" y="31" width="3" height="4.6" fill="#8f7d2a"/><rect x="33.4" y="29.5" width="6.6" height="8" fill="#efe4e6"/><path d="M34.8,31 l3.2,0.3 l0.6,3 l-2.2,2 l-1.6,-2.5z" fill="#e26fa6"/><rect x="26.8" y="37.5" width="6.6" height="8" fill="#d0401b"/><rect x="27.6" y="37.5" width="1" height="8" fill="#e8b000"/><rect x="29.7" y="37.5" width="1" height="8" fill="#e8b000"/><rect x="31.8" y="37.5" width="1" height="8" fill="#e8b000"/><rect x="33.4" y="37.5" width="6.6" height="8" fill="#cc3a1a"/><circle cx="36.8" cy="40.8" r="1.6" fill="#d9901a" opacity="0.8"/></g><ellipse cx="33.4" cy="37.2" rx="1.6" ry="2" fill="#1d5fa8"/><path d="M27,26.2 Q26.2,23.2 29.5,22.6 Q33.4,21.6 37.3,22.6 Q40.6,23.2 39.8,26.2Z" fill="#c22a1c"/><path d="M27,26 H39.8 L38.6,29.2 H28.2Z" fill="#b89a22"/><rect x="33" y="20.6" width="0.8" height="5.4" fill="#b89a22"/></g></svg><rect x="142" y="445" width="442" height="1" fill="rgba(0,0,0,.22)"/><text transform="translate(131.90 452.90) scale(0.9140 1)" font-size="25.5" fill="#44739e" text-anchor="end" stroke="#44739e" stroke-width="1.05" stroke-linejoin="round">0</text><rect x="142" y="397" width="442" height="1" fill="rgba(0,0,0,.22)"/><text transform="translate(131.90 404.90) scale(0.9140 1)" font-size="25.5" fill="#44739e" text-anchor="end" stroke="#44739e" stroke-width="1.05" stroke-linejoin="round">200.000</text><rect x="142" y="348" width="442" height="1" fill="rgba(0,0,0,.22)"/><text transform="translate(131.90 355.90) scale(0.9140 1)" font-size="25.5" fill="#44739e" text-anchor="end" stroke="#44739e" stroke-width="1.05" stroke-linejoin="round">400.000</text><rect x="142" y="300" width="442" height="1" fill="rgba(0,0,0,.22)"/><text transform="translate(131.90 307.90) scale(0.9140 1)" font-size="25.5" fill="#44739e" text-anchor="end" stroke="#44739e" stroke-width="1.05" stroke-linejoin="round">600.000</text><rect x="142" y="252" width="442" height="1" fill="rgba(0,0,0,.22)"/><text transform="translate(131.90 259.90) scale(0.9140 1)" font-size="25.5" fill="#44739e" text-anchor="end" stroke="#44739e" stroke-width="1.05" stroke-linejoin="round">800.000</text><rect x="142" y="204" width="442" height="1" fill="rgba(0,0,0,.22)"/><text transform="translate(131.90 211.90) scale(0.9140 1)" font-size="25.5" fill="#44739e" text-anchor="end" stroke="#44739e" stroke-width="1.05" stroke-linejoin="round">1.000.000</text><rect x="142" y="156" width="442" height="1" fill="rgba(0,0,0,.22)"/><text transform="translate(131.90 163.90) scale(0.9140 1)" font-size="25.5" fill="#44739e" text-anchor="end" stroke="#44739e" stroke-width="1.05" stroke-linejoin="round">1.200.000</text><rect x="195" y="155.40" width="1" height="299.90" fill="rgba(0,0,0,.22)"/><rect x="282" y="155.40" width="1" height="299.90" fill="rgba(0,0,0,.22)"/><rect x="368" y="155.40" width="1" height="299.90" fill="rgba(0,0,0,.22)"/><rect x="454" y="155.40" width="1" height="299.90" fill="rgba(0,0,0,.22)"/><rect x="541" y="155.40" width="1" height="299.90" fill="rgba(0,0,0,.22)"/><rect x="167.86" y="192.72" width="55.3" height="252.58" fill="#d32f2f"/><rect x="340.50" y="436.43" width="55.3" height="8.87" fill="#000000"/><rect x="151.80" y="156.40" width="1.2" height="289.50" fill="#000"/><rect x="151.80" y="444.80" width="432.20" height="1.2" fill="#000"/><text transform="translate(205.06 310.88) rotate(-90) scale(0.8510 1)" font-size="33.5" fill="#000" stroke="#000" stroke-width="0.5" stroke-linejoin="round">1.046.641</text><text transform="translate(291.38 435.81) rotate(-90) scale(0.8510 1)" font-size="33.5" fill="#000" stroke="#000" stroke-width="0.5" stroke-linejoin="round">0</text><text transform="translate(377.70 431.65) rotate(-90) scale(0.8510 1)" font-size="33.5" fill="#d32f2f" stroke="#d32f2f" stroke-width="0.5" stroke-linejoin="round">34.366</text><text transform="translate(464.02 435.81) rotate(-90) scale(0.8510 1)" font-size="33.5" fill="#000" stroke="#000" stroke-width="0.5" stroke-linejoin="round">0</text><text transform="translate(550.34 435.81) rotate(-90) scale(0.8510 1)" font-size="33.5" fill="#d32f2f" stroke="#d32f2f" stroke-width="0.5" stroke-linejoin="round">0</text><text transform="translate(198.24 472.23) rotate(-25) scale(0.9090 1)" font-size="26" fill="#44739e" text-anchor="end" stroke="#44739e" stroke-width="1.05" stroke-linejoin="round">Infiziert ges.</text><text transform="translate(285.20 471.93) rotate(-25) scale(0.8920 1)" font-size="26" fill="#44739e" text-anchor="end" stroke="#44739e" stroke-width="1.05" stroke-linejoin="round">geheilt</text><text transform="translate(371.52 471.93) rotate(-25) scale(0.9174 1)" font-size="26" fill="#44739e" text-anchor="end" stroke="#44739e" stroke-width="1.05" stroke-linejoin="round">Todesfälle</text><text transform="translate(456.21 472.69) rotate(-25) scale(0.8920 1)" font-size="26" fill="#44739e" text-anchor="end" stroke="#44739e" stroke-width="1.05" stroke-linejoin="round">Heute Infiziert</text><text transform="translate(538.45 474.59) rotate(-25) scale(0.8657 1)" font-size="26" fill="#44739e" text-anchor="end" stroke="#44739e" stroke-width="1.05" stroke-linejoin="round">Heute Tote</text></svg></div><div class="card" style="left:1598px;top:796px"><svg width="600" height="560" viewBox="0 0 600 560"><rect x="20.5" y="20.5" width="559" height="99" fill="#44739e" stroke="#33394a" stroke-width="1"/><g transform="translate(49.8 46.5) scale(2.18)" fill="#fafafa" fill-rule="evenodd"><path d="M4,6H2V20A2,2 0 0,0 4,22H18V20H4V6M20,2H8A2,2 0 0,0 6,4V16A2,2 0 0,0 8,18H20A2,2 0 0,0 22,16V4A2,2 0 0,0 20,2M14,4A3,3 0 0,1 17,7A3,3 0 0,1 14,10A3,3 0 0,1 11,7A3,3 0 0,1 14,4M20,16H8V14.5C8,12.5 12,11.5 14,11.5C16,11.5 20,12.5 20,14.5V16Z"/></g><text transform="translate(118.02 81.10) scale(0.8298 1)" font-size="32.5" fill="#fff" stroke="#fff" stroke-width="0.35" stroke-linejoin="round">Welt</text><text transform="translate(180.47 81.10) scale(0.7600 1)" font-size="32.5" fill="#fff" stroke="#fff" stroke-width="0.35" stroke-linejoin="round">&amp;</text><text transform="translate(205.01 81.10) scale(0.8726 1)" font-size="32.5" fill="#fff" stroke="#fff" stroke-width="0.35" stroke-linejoin="round">Kontinente</text><rect x="155" y="470" width="439" height="1" fill="rgba(0,0,0,.22)"/><text transform="translate(143.90 478.50) scale(0.9140 1)" font-size="25.5" fill="#44739e" text-anchor="end" stroke="#44739e" stroke-width="1.05" stroke-linejoin="round">0</text><rect x="155" y="435" width="439" height="1" fill="rgba(0,0,0,.22)"/><text transform="translate(143.90 443.50) scale(0.9140 1)" font-size="25.5" fill="#44739e" text-anchor="end" stroke="#44739e" stroke-width="1.05" stroke-linejoin="round">5.000.000</text><rect x="155" y="400" width="439" height="1" fill="rgba(0,0,0,.22)"/><text transform="translate(143.90 408.50) scale(0.9140 1)" font-size="25.5" fill="#44739e" text-anchor="end" stroke="#44739e" stroke-width="1.05" stroke-linejoin="round">10.000.000</text><rect x="155" y="365" width="439" height="1" fill="rgba(0,0,0,.22)"/><text transform="translate(143.90 373.50) scale(0.9140 1)" font-size="25.5" fill="#44739e" text-anchor="end" stroke="#44739e" stroke-width="1.05" stroke-linejoin="round">15.000.000</text><rect x="155" y="330" width="439" height="1" fill="rgba(0,0,0,.22)"/><text transform="translate(143.90 338.50) scale(0.9140 1)" font-size="25.5" fill="#44739e" text-anchor="end" stroke="#44739e" stroke-width="1.05" stroke-linejoin="round">20.000.000</text><rect x="155" y="295" width="439" height="1" fill="rgba(0,0,0,.22)"/><text transform="translate(143.90 303.50) scale(0.9140 1)" font-size="25.5" fill="#44739e" text-anchor="end" stroke="#44739e" stroke-width="1.05" stroke-linejoin="round">25.000.000</text><rect x="155" y="260" width="439" height="1" fill="rgba(0,0,0,.22)"/><text transform="translate(143.90 268.50) scale(0.9140 1)" font-size="25.5" fill="#44739e" text-anchor="end" stroke="#44739e" stroke-width="1.05" stroke-linejoin="round">30.000.000</text><rect x="155" y="225" width="439" height="1" fill="rgba(0,0,0,.22)"/><text transform="translate(143.90 233.50) scale(0.9140 1)" font-size="25.5" fill="#44739e" text-anchor="end" stroke="#44739e" stroke-width="1.05" stroke-linejoin="round">35.000.000</text><rect x="155" y="190" width="439" height="1" fill="rgba(0,0,0,.22)"/><text transform="translate(143.90 198.50) scale(0.9140 1)" font-size="25.5" fill="#44739e" text-anchor="end" stroke="#44739e" stroke-width="1.05" stroke-linejoin="round">40.000.000</text><rect x="155" y="156" width="439" height="1" fill="rgba(0,0,0,.22)"/><text transform="translate(143.90 163.40) scale(0.9140 1)" font-size="25.5" fill="#44739e" text-anchor="end" stroke="#44739e" stroke-width="1.05" stroke-linejoin="round">45.000.000</text><rect x="196" y="155.50" width="1" height="324.80" fill="rgba(0,0,0,.22)"/><rect x="318" y="155.50" width="1" height="324.80" fill="rgba(0,0,0,.22)"/><rect x="441" y="155.50" width="1" height="324.80" fill="rgba(0,0,0,.22)"/><rect x="563" y="155.50" width="1" height="324.80" fill="rgba(0,0,0,.22)"/><rect x="176.03" y="179.67" width="39" height="290.63" fill="#d32f2f"/><rect x="237.27" y="417.42" width="39" height="52.88" fill="#1976d2"/><rect x="298.52" y="334.16" width="39" height="136.14" fill="#388e3c"/><rect x="359.77" y="398.24" width="39" height="72.06" fill="#7b1fa2"/><rect x="421.02" y="406.22" width="39" height="64.08" fill="#f57c00"/><rect x="482.27" y="380.74" width="39" height="89.56" fill="#b8964f"/><rect x="543.52" y="458.50" width="39" height="11.80" fill="#5d4037"/><rect x="164.80" y="156.50" width="1.2" height="314.40" fill="#000"/><rect x="164.80" y="469.80" width="429.20" height="1.2" fill="#000"/><text transform="translate(205.53 315.04) rotate(-90) scale(0.8510 1)" font-size="33.5" fill="#000" stroke="#000" stroke-width="0.5" stroke-linejoin="round">41.518.224</text><text transform="translate(266.77 434.72) rotate(-90) scale(0.8510 1)" font-size="33.5" fill="#000" stroke="#000" stroke-width="0.5" stroke-linejoin="round">7.554.871</text><text transform="translate(328.02 393.80) rotate(-90) scale(0.8510 1)" font-size="33.5" fill="#000" stroke="#000" stroke-width="0.5" stroke-linejoin="round">19.448.758</text><text transform="translate(389.27 425.84) rotate(-90) scale(0.8510 1)" font-size="33.5" fill="#000" stroke="#000" stroke-width="0.5" stroke-linejoin="round">10.293.884</text><text transform="translate(450.52 428.99) rotate(-90) scale(0.8510 1)" font-size="33.5" fill="#000" stroke="#000" stroke-width="0.5" stroke-linejoin="round">9.154.874</text><text transform="translate(511.77 417.09) rotate(-90) scale(0.8510 1)" font-size="33.5" fill="#000" stroke="#000" stroke-width="0.5" stroke-linejoin="round">12.793.923</text><text transform="translate(573.02 455.97) rotate(-90) scale(0.8510 1)" font-size="33.5" fill="#000" stroke="#000" stroke-width="0.5" stroke-linejoin="round">1.685.455</text><text transform="translate(198.22 498.20) rotate(-25) scale(0.8340 1)" font-size="26" fill="#44739e" text-anchor="end" stroke="#44739e" stroke-width="1.05" stroke-linejoin="round">Welt</text><text transform="translate(320.72 498.20) rotate(-25) scale(0.8742 1)" font-size="26" fill="#44739e" text-anchor="end" stroke="#44739e" stroke-width="1.05" stroke-linejoin="round">America</text><text transform="translate(443.77 497.95) rotate(-25) scale(0.8684 1)" font-size="26" fill="#44739e" text-anchor="end" stroke="#44739e" stroke-width="1.05" stroke-linejoin="round">S.America</text><text transform="translate(565.73 498.20) rotate(-25) scale(0.8965 1)" font-size="26" fill="#44739e" text-anchor="end" stroke="#44739e" stroke-width="1.05" stroke-linejoin="round">Africa</text><text transform="translate(446.06 147.60) scale(1.0744 1)" font-size="30" fill="#44739e" opacity="0.92">41,52</text><text transform="translate(534.09 147.60) scale(0.9391 1)" font-size="30" fill="#44739e" opacity="0.92">Mio</text></svg></div>
<div id="hline"></div>
<div id="btn"></div>
<svg id="top" width="2218" height="200" viewBox="0 0 2218 200">
<text transform="translate(318.07 80.00) scale(0.7793 1)" font-size="49" fill="#44739e" font-weight="bold" stroke="#44739e" stroke-width="1.1" stroke-linejoin="round">Corona</text><text transform="translate(464.63 80.00) scale(0.8274 1)" font-size="49" fill="#44739e" font-weight="bold" stroke="#44739e" stroke-width="1.1" stroke-linejoin="round">Pandemie</text><text transform="translate(667.89 80.00) scale(0.9661 1)" font-size="49" fill="#44739e" font-weight="bold" stroke="#44739e" stroke-width="1.1" stroke-linejoin="round">-</text><text transform="translate(696.21 80.00) scale(0.7828 1)" font-size="49" fill="#44739e" font-weight="bold" stroke="#44739e" stroke-width="1.1" stroke-linejoin="round">Top5</text>
<text transform="translate(1840.41 125.00) scale(0.8650 1)" font-size="26.5" fill="#fff" stroke="#fff" stroke-width="0.35" stroke-linejoin="round">zurück</text><text transform="translate(1914.91 125.00) scale(0.8683 1)" font-size="26.5" fill="#fff" stroke="#fff" stroke-width="0.35" stroke-linejoin="round">zum</text><text transform="translate(1963.68 125.00) scale(0.8574 1)" font-size="26.5" fill="#fff" stroke="#fff" stroke-width="0.35" stroke-linejoin="round">Dashboard</text>
</svg>
<div id="side"><svg width="238" height="100"><rect x="36" y="32" width="36" height="4" fill="#fff"/><rect x="36" y="42" width="36" height="4" fill="#fff"/><rect x="36" y="52" width="36" height="4" fill="#fff"/></svg></div>
</div>
</body></html>
